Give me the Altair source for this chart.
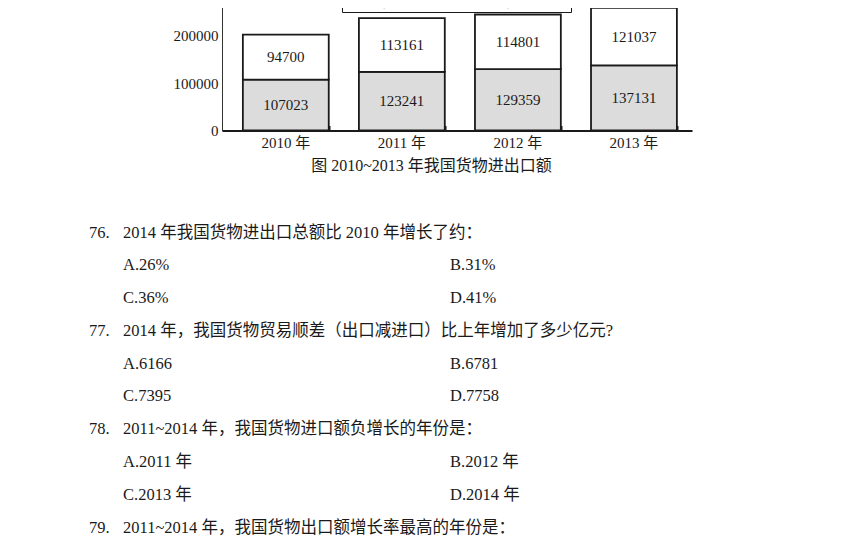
import pandas as pd
import altair as alt

# chart values
years = ["2010 年", "2011 年", "2012 年", "2013 年"]
exports = [107023, 123241, 129359, 137131]
imports = [94700, 113161, 114801, 121037]
kinds = ["货物出口额", "货物进口额"]
y_ticks = [0, 100000, 200000]
caption = "图 2010~2013 年我国货物进出口额"

# question text below the chart
q_nums = ["76.", "77.", "78.", "79."]
q_stems = [
    "2014 年我国货物进出口总额比 2010 年增长了约：",
    "2014 年，我国货物贸易顺差（出口减进口）比上年增加了多少亿元?",
    "2011~2014 年，我国货物进口额负增长的年份是：",
    "2011~2014 年，我国货物出口额增长率最高的年份是：",
]
q_options = [
    ["A.26%", "B.31%", "C.36%", "D.41%"],
    ["A.6166", "B.6781", "C.7395", "D.7758"],
    ["A.2011 年", "B.2012 年", "C.2013 年", "D.2014 年"],
]

SERIF = "Liberation Serif, Noto Sans CJK SC"
INK = "#1a1a1a"

# build the tables
rows = []
for i, yr in enumerate(years):
    rows.append({"year": yr, "kind": kinds[0], "value": exports[i], "ord": 0})
    rows.append({"year": yr, "kind": kinds[1], "value": imports[i], "ord": 1})
bars_df = pd.DataFrame(rows)

q_rows = []
line = 0
for qi, num in enumerate(q_nums):
    q_rows.append({"line": line, "col": 0, "text": num})
    q_rows.append({"line": line, "col": 1, "text": q_stems[qi]})
    line += 1
    if qi < len(q_options):
        opts = q_options[qi]
        for k in range(0, 4, 2):
            q_rows.append({"line": line, "col": 1, "text": opts[k]})
            q_rows.append({"line": line, "col": 2, "text": opts[k + 1]})
            line += 1
q_df = pd.DataFrame(q_rows)

x_scale = alt.Scale(domain=years, paddingInner=0.26, paddingOuter=0.155, align=0.58)
y_scale = alt.Scale(domain=[0, 300000], nice=False)

y_axis = alt.Axis(values=y_ticks, format="d", title=None, ticks=False, grid=False,
                  labelFont=SERIF, labelFontSize=15, labelColor=INK, labelPadding=4,
                  labelFlush=False, domainColor="#333", domainWidth=1)

base = alt.Chart(bars_df).transform_stack(
    stack="value", groupby=["year"], as_=["v0", "v1"],
    sort=[alt.SortField("ord", "ascending")],
).transform_calculate(mid="(datum.v0 + datum.v1) / 2")

# stacked bars, their axis only draws the small inward ticks
bars = base.mark_bar(stroke=INK, strokeWidth=1.8).encode(
    x=alt.X("year:N", scale=x_scale, sort=years,
            axis=alt.Axis(orient="bottom", offset=-5, domain=False, labels=False, title=None,
                          tickSize=5, tickBand="extent", tickColor=INK, tickWidth=2)),
    y=alt.Y("v0:Q", scale=y_scale, axis=y_axis),
    y2="v1:Q",
    fill=alt.Fill("kind:N", scale=alt.Scale(domain=kinds, range=["#dcdcdc", "#ffffff"]),
                  legend=alt.Legend(orient="none", legendX=120, legendY=3, direction="horizontal",
                                    title=None, strokeColor=INK, padding=2, symbolType="square",
                                    symbolSize=130, symbolStrokeColor=INK, symbolStrokeWidth=1.2,
                                    labelFont=SERIF, labelFontSize=16, labelColor=INK,
                                    columnPadding=22, symbolOffset=0, fillColor="white")),
)

# numbers inside the segments, this layer carries the main x axis
labels = base.mark_text(font=SERIF, fontSize=15, color=INK).encode(
    x=alt.X("year:N", scale=x_scale, sort=years,
            axis=alt.Axis(orient="bottom", labelAngle=0, labelFont=SERIF, labelFontSize=15,
                          labelColor=INK, labelPadding=5, ticks=False, domainColor=INK,
                          domainWidth=2, title=caption, titleFont=SERIF, titleFontSize=16,
                          titleFontWeight="normal", titleColor=INK, titleX=209,
                          titleY=35, titleBaseline="middle")),
    y=alt.Y("mid:Q", scale=y_scale, axis=y_axis),
    text=alt.Text("value:Q", format="d"),
)

chart_part = alt.layer(bars, labels).resolve_axis(x="independent")

questions = alt.Chart(q_df).mark_text(align="left", baseline="middle", font=SERIF,
                                      fontSize=16.5, color=INK).encode(
    x=alt.X("col:Q", scale=alt.Scale(domain=[0, 1, 2], range=[-133, -99, 228]), axis=None),
    y=alt.Y("line:Q", scale=alt.Scale(domain=[0, 9], range=[244.5, 539.5]), axis=None),
    text="text:N",
)

chart = alt.layer(chart_part, questions).resolve_scale(
    x="independent", y="independent"
).properties(
    width=470, height=142.5,
    padding={"left": 81, "top": -20, "right": 10, "bottom": 2},
    background="white",
).configure_view(strokeWidth=0)

chart.save("out.html", embed_options={"renderer": "svg", "actions": False})
